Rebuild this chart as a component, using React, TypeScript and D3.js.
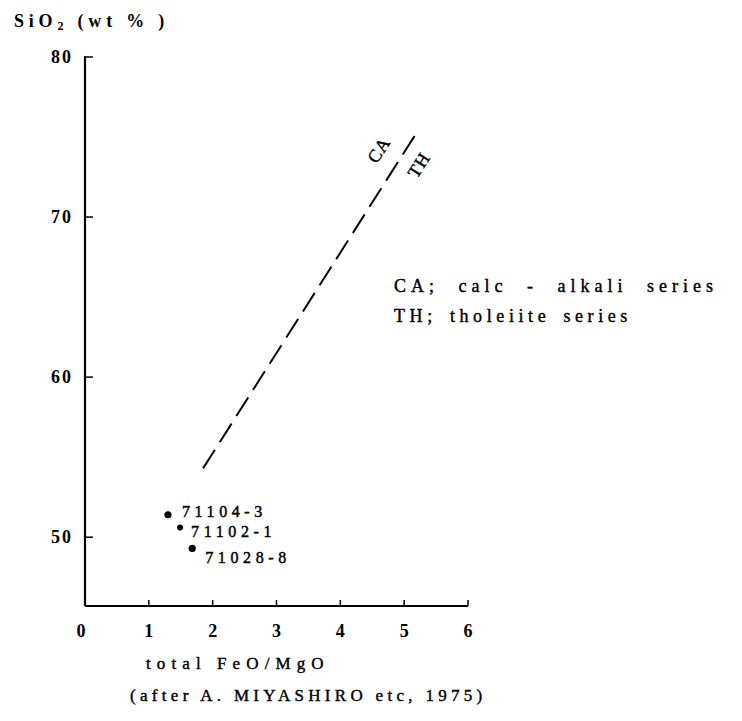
import React from "react";
import * as d3 from "d3";

const xTicks = [0, 1, 2, 3, 4, 5, 6];
const yTicks = [50, 60, 70, 80];
const samples = ["71104-3", "71102-1", "71028-8"];
const feoMgo = [1.3, 1.49, 1.68];
const sio2 = [51.4, 50.6, 49.3];
const boundaryX = [1.85, 5.2];
const boundaryY = [54.3, 75.3];
const legendLines = ["CA; calc - alkali series", "TH; tholeiite series"];

const W = 742;
const H = 721;

export default function App() {
  const x = d3.scaleLinear().domain([0, 6]).range([85, 468]);
  const y = d3.scaleLinear().domain([45.7, 80]).range([606, 57]);
  const font = "'Liberation Serif', 'DejaVu Serif', serif";
  const line = d3
    .line<number>()
    .x((d, i) => x(boundaryX[i]))
    .y((d, i) => y(boundaryY[i]));
  const x0 = x(boundaryX[0]), y0 = y(boundaryY[0]);
  const x1 = x(boundaryX[1]), y1 = y(boundaryY[1]);
  const ang = (Math.atan2(y1 - y0, x1 - x0) * 180) / Math.PI;
  const labelOffsets = [
    { dx: 14, dy: 2 },
    { dx: 11, dy: 9 },
    { dx: 13, dy: 15 },
  ];
  const legendStyle = [
    { ls: 5.0, ws: 10 },
    { ls: 4.6, ws: 4 },
  ];
  return (
    <svg width={W} height={H} style={{ position: "absolute", left: 0, top: 0, background: "#fff" }}>
      <rect width={W} height={H} fill="#fff" />
      <g fontFamily={font} fill="#000" fontWeight="bold">
        <text x={14} y={27} fontSize={18} letterSpacing={4.8}>
          SiO<tspan fontSize={12} dy={3}>2</tspan>
          <tspan dy={-3}> (wt % )</tspan>
        </text>
        {/* axes */}
        <line x1={x(0)} x2={x(0)} y1={y(80) - 1} y2={y(45.7)} stroke="#000" strokeWidth={2.2} />
        <line x1={x(0)} x2={x(6)} y1={y(45.7)} y2={y(45.7)} stroke="#000" strokeWidth={2} />
        {yTicks.map((t) => (
          <g key={t}>
            <line x1={x(0)} x2={x(0) + 8} y1={y(t)} y2={y(t)} stroke="#000" strokeWidth={1.5} />
            <text x={73} y={y(t) + 6} fontSize={18} textAnchor="end" letterSpacing={2}>
              {t}
            </text>
          </g>
        ))}
        {xTicks.map((t) => (
          <g key={t}>
            {t > 0 && (
              <line x1={x(t)} x2={x(t)} y1={y(45.7)} y2={y(45.7) - 6} stroke="#000" strokeWidth={1.5} />
            )}
            <text x={x(t) - (t === 0 ? 4 : 0)} y={637} fontSize={18} textAnchor="middle">
              {t}
            </text>
          </g>
        ))}
        {/* boundary line */}
        <path
          d={line(boundaryX) || ""}
          fill="none"
          stroke="#000"
          strokeWidth={2}
          strokeDasharray="22 9"
        />
        <text
          transform={`translate(${x1 - 33},${y1 + 21}) rotate(${ang})`}
          fontSize={18}
          textAnchor="middle"
          letterSpacing={1}
          fontWeight="normal"
          stroke="#000"
          strokeWidth={0.4}
        >
          CA
        </text>
        <text
          transform={`translate(${x1 + 7},${y1 + 36}) rotate(${ang})`}
          fontSize={18}
          textAnchor="middle"
          letterSpacing={1}
          fontWeight="normal"
          stroke="#000"
          strokeWidth={0.4}
        >
          TH
        </text>
        {/* samples */}
        {samples.map((s, i) => (
          <g key={s}>
            <circle cx={x(feoMgo[i])} cy={y(sio2[i])} r={i === 1 ? 3 : 3.6} fill="#000" />
            <text
              x={x(feoMgo[i]) + labelOffsets[i].dx}
              y={y(sio2[i]) + labelOffsets[i].dy}
              fontSize={16}
              letterSpacing={4.6}
              fontWeight="normal"
              stroke="#000"
              strokeWidth={0.45}
            >
              {s}
            </text>
          </g>
        ))}
        {/* legend */}
        {legendLines.map((l, i) => (
          <text
            key={l}
            x={394}
            y={292 + i * 30}
            fontSize={18}
            letterSpacing={legendStyle[i].ls}
            wordSpacing={legendStyle[i].ws}
            fontWeight="normal"
            stroke="#000"
            strokeWidth={0.4}
          >
            {l}
          </text>
        ))}
        <text x={146} y={669} fontSize={17} letterSpacing={6.1} fontWeight="normal" stroke="#000" strokeWidth={0.4}>
          total FeO/MgO
        </text>
        <text x={130} y={701} fontSize={17} letterSpacing={4.3} fontWeight="normal" stroke="#000" strokeWidth={0.4}>
          (after A. MIYASHIRO etc, 1975)
        </text>
      </g>
    </svg>
  );
}
